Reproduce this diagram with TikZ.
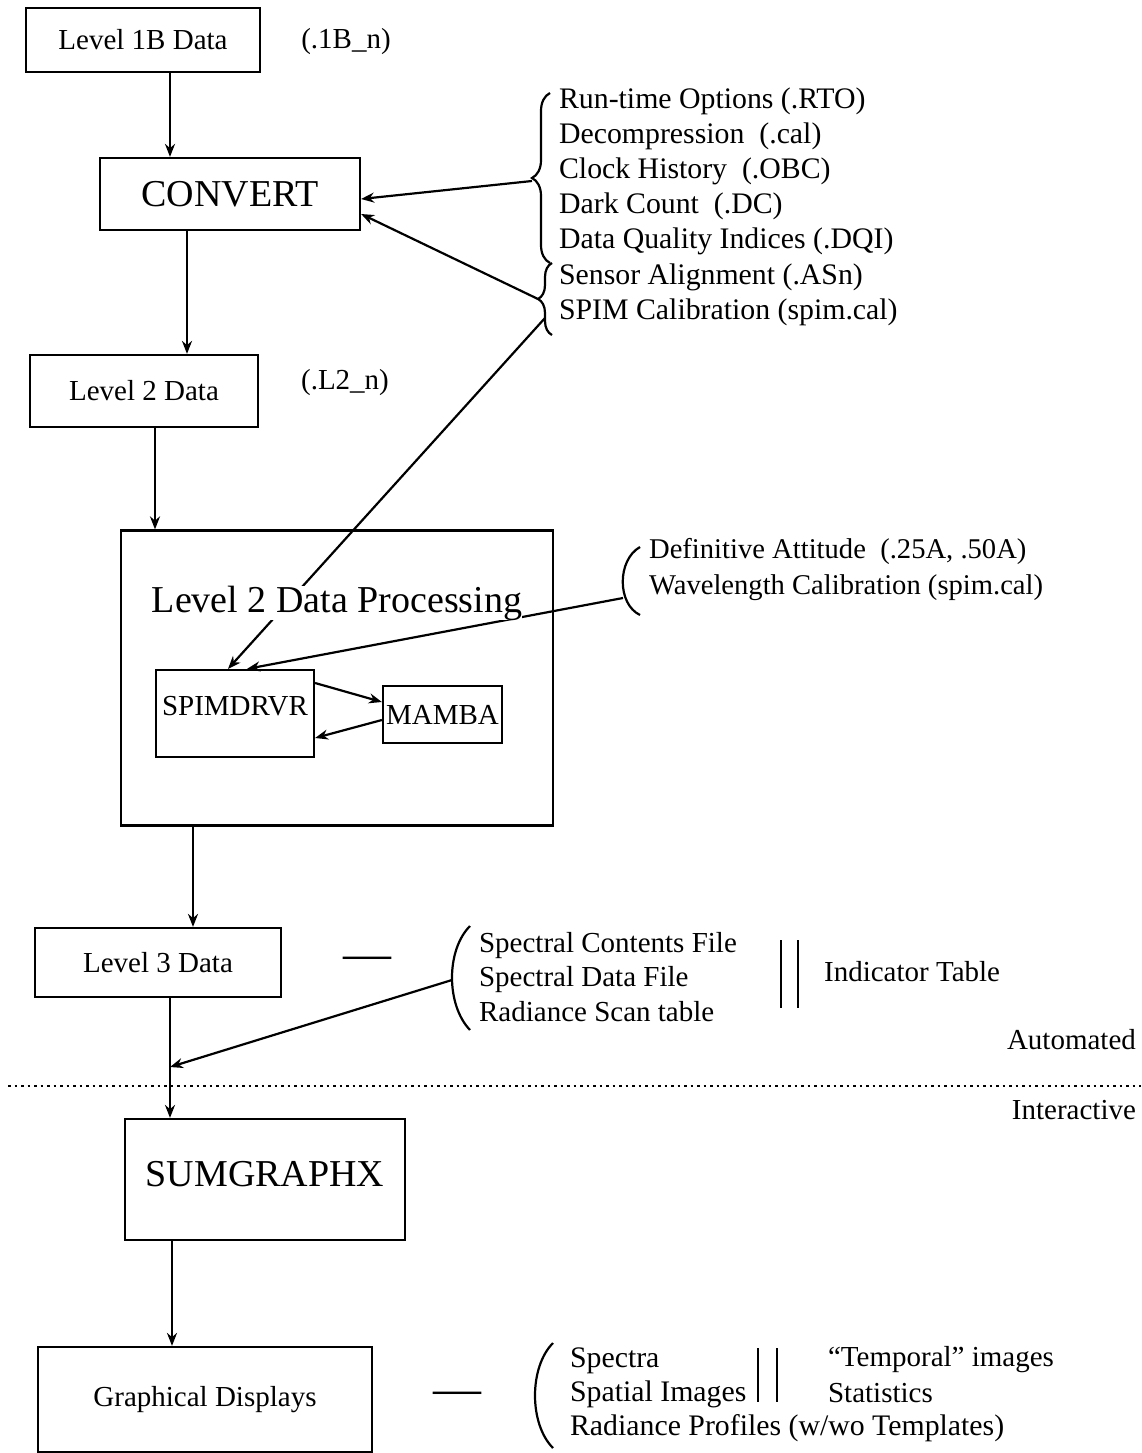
\documentclass[tikz,border=0pt]{standalone}
\usepackage{fontspec}
\setmainfont{Liberation Serif}
\usetikzlibrary{arrows.meta,decorations.pathreplacing}

\begin{document}
\begin{tikzpicture}[
  x=1pt, y=-1pt,
  >={Stealth[length=13pt,width=10pt]},
  line width=2.2pt,
  every node/.style={font=\fontsize{29}{35}\selectfont, inner sep=0pt},
  big text/.style={font=\fontsize{38}{42}\selectfont},
  data box/.style={rectangle, draw, line width=2.2pt},
  side text/.style={anchor=west, align=left},
  arr/.style={->},
  curly/.style={decorate, decoration={brace, amplitude=#1}},
  sep line/.style={line width=2pt, dash pattern=on 2.5pt off 4pt},
]
\useasboundingbox (0,0) rectangle (1141,1453);

% main column
\node[data box, minimum width=234, minimum height=64] (l1b) at (143,40) {Level 1B Data};
\node (ext1b) at (346,42) {(.1B\_n)};
\node[data box, big text, minimum width=260, minimum height=72] (convert) at (230,194) {CONVERT};
\node[data box, minimum width=228, minimum height=72] (l2) at (144,391) {Level 2 Data};
\node (extl2) at (345,383) {(.L2\_n)};
\node[data box, minimum width=432, minimum height=295] (proc) at (337,678) {};
\node[data box, minimum width=158, minimum height=87, text height=20pt, text depth=17pt] (spim) at (235,713.5) {SPIMDRVR};
\node[data box, minimum width=119, minimum height=57] (mamba) at (442.5,714.5) {MAMBA};
\node[data box, minimum width=246, minimum height=69] (l3) at (158,962.5) {Level 3 Data};
\node[data box, big text, minimum width=280, minimum height=121, text height=27pt, text depth=14pt] (sum) at (265,1179.5) {SUMGRAPHX};
\node[data box, minimum width=334, minimum height=105] (gd) at (205,1399.5) {Graphical Displays};

% input lists
\node[side text, font=\fontsize{29.8}{35.2}\selectfont] (runopts) at (558,206.5) {Run-time Options (.RTO)\\Decompression\ \ (.cal)\\Clock History\ \ (.OBC)\\Dark Count\ \ (.DC)\\Data Quality Indices (.DQI)\\Sensor Alignment (.ASn)\\SPIM Calibration (spim.cal)};
\draw[curly=18pt] (550,263) -- (550,93);
\draw[curly=14pt] (552,335) -- (552,263);
\coordinate (b1tip) at (532,181);
\coordinate (b2tip) at (538,299);
\coordinate (b3tip) at (545,318);

\node[side text, font=\fontsize{28.6}{36}\selectfont] (attitude) at (648,570) {Definitive Attitude\ \ (.25A, .50A)\\Wavelength Calibration (spim.cal)};
\draw (640,547) .. controls (617,560) and (617,604) .. (640,615);
\coordinate (dtip) at (623,598);

% level 3 outputs
\node (dash3) at (367,963) {\fontsize{48}{50}\selectfont —};
\node[side text, font=\fontsize{29}{34.5}\selectfont] (spectral) at (478,977) {Spectral Contents File\\Spectral Data File\\Radiance Scan table};
\draw (470,926) .. controls (446,950) and (446,1005) .. (470,1030);
\coordinate (stip) at (452,980);
\draw (781,940) -- (781,1008);
\draw (798,940) -- (798,1008);
\node[anchor=west] (indic) at (823,972) {Indicator Table};

% automated / interactive split
\node[anchor=east] (auto) at (1137,1040) {Automated};
\node[anchor=east] (inter) at (1137,1110) {Interactive};
\draw[sep line] (8,1086) -- (1141,1086);

% display outputs
\node (dashgd) at (457,1398) {\fontsize{48}{50}\selectfont —};
\draw (553,1343) .. controls (529,1367) and (529,1424) .. (553,1448);
\node[side text, font=\fontsize{29.8}{34}\selectfont] (spectra) at (569,1395) {Spectra\\Spatial Images\\Radiance Profiles (w/wo Templates)};
\draw (758,1348) -- (758,1402);
\draw (777,1348) -- (777,1402);
\node[side text, font=\fontsize{29}{36}\selectfont] (temporal) at (827,1375) {“Temporal” images\\Statistics};

% flow arrows
\draw[arr] ([xshift=27pt]l1b.south) -- ([xshift=27pt]l1b.south |- convert.north);
\draw[arr] ([xshift=-43pt]convert.south) -- ([xshift=-43pt]convert.south |- l2.north);
\draw[arr] ([xshift=11pt]l2.south) -- ([xshift=11pt]l2.south |- proc.north);
\draw[arr] ([xshift=-144pt]proc.south) -- ([xshift=-144pt]proc.south |- l3.north);
\draw[arr] ([xshift=12pt]l3.south) -- ([xshift=12pt]l3.south |- sum.north);
\draw[arr] ([xshift=-93pt]sum.south) -- ([xshift=-93pt]sum.south |- gd.north);
\coordinate (hit) at (170,1067);
\draw[arr] (stip) -- (hit);

\draw[arr] (b1tip) -- ([yshift=-5pt]convert.east);
\draw[arr] (b2tip) -- ([yshift=-20pt]convert.east);
\draw[arr] (b3tip) -- ([xshift=-7pt]spim.north);
\draw[arr] (dtip) -- ([xshift=12pt]spim.north);
\draw[arr] ([yshift=30.5pt]spim.east) -- ([yshift=12.5pt]mamba.west);
\draw[arr] ([yshift=-5.5pt]mamba.west) -- ([yshift=-24.5pt]spim.east);

\node[big text, fill=white] (proctitle) at (337,603) {Level 2 Data Processing};
\end{tikzpicture}
\end{document}
